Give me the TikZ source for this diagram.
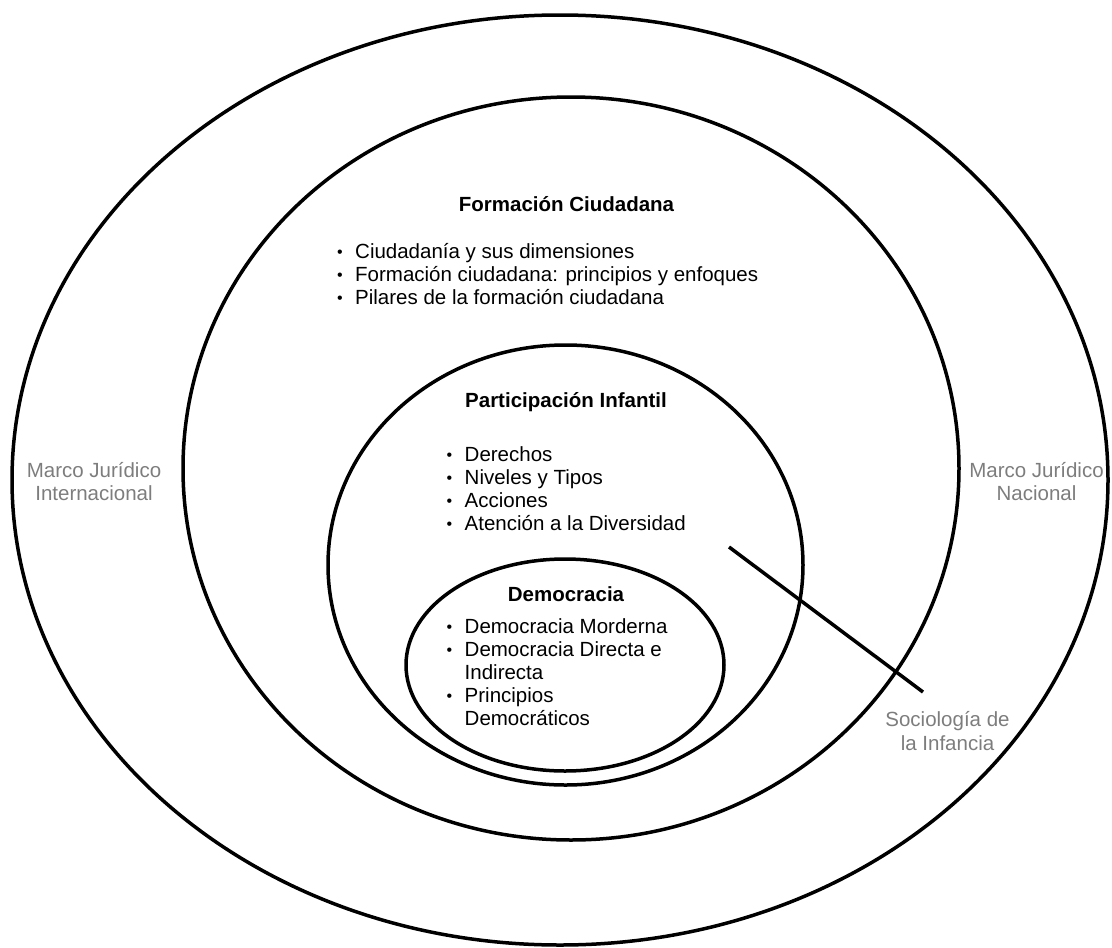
\documentclass[tikz,border=0pt]{standalone}
\usepackage{fontspec}
\setmainfont{Liberation Sans}
\usetikzlibrary{shapes.geometric}
\definecolor{labelgray}{RGB}{125,125,125}
\newcommand{\bl}{\makebox[18pt][l]{\raisebox{0.5pt}{\fontsize{16}{16}\selectfont•}}}
\tikzset{
  ring/.style={draw=black, line width=3.5pt, ellipse, inner sep=0pt, fill=none},
  txt/.style={inner sep=0pt, font=\fontsize{20.5}{23}\selectfont, text=black},
  ttl/.style={txt, font=\fontsize{20.5}{23}\selectfont\bfseries},
  glabel/.style={inner sep=0pt, font=\fontsize{20.5}{23.5}\selectfont, text=labelgray},
  link/.style={draw=black, line width=3.5pt}
}
\begin{document}
\begin{tikzpicture}[x=1pt,y=-1pt]
\useasboundingbox (0,0) rectangle (1112,948);
% ellipses
\node[ring, minimum width=1096pt, minimum height=930pt] (outer) at (560,480) {};
\node[ring, minimum width=776pt, minimum height=743pt] (formacion) at (571,468.5) {};
\node[ring, minimum width=475pt, minimum height=440pt] (participacion) at (565.5,565) {};
\node[ring, minimum width=318pt, minimum height=212pt] (democracia) at (565,665) {};
% titles
\node[ttl, anchor=base] (tfc) at (566.5,211.5) {Formación Ciudadana};
\node[ttl, anchor=base] (tpi) at (566,407) {Participación Infantil};
\node[ttl, anchor=base] (tdm) at (566,601) {Democracia};
% bullet lists
\node[txt, anchor=base west] (lfc) at (337,258) {\begin{tabular}[t]{@{}l@{}}\bl Ciudadanía y sus dimensiones\\ \bl Formación ciudadana: principios y enfoques\\ \bl Pilares de la formación ciudadana\end{tabular}};
\node[txt, anchor=base west] (lpi) at (446.5,461) {\begin{tabular}[t]{@{}l@{}}\bl Derechos\\ \bl Niveles y Tipos\\ \bl Acciones\\ \bl Atención a la Diversidad\end{tabular}};
\node[txt, anchor=base west] (ldm) at (446.5,633) {\begin{tabular}[t]{@{}l@{}}\bl Democracia Morderna\\ \bl Democracia Directa e\\ \hspace*{18pt}Indirecta\\ \bl Principios\\ \hspace*{18pt}Democráticos\end{tabular}};
% gray labels
\node[glabel, anchor=base] (mji) at (94,477) {\begin{tabular}[t]{@{}c@{}}Marco Jurídico\\ Internacional\end{tabular}};
\node[glabel, anchor=base] (mjn) at (1036.5,477) {\begin{tabular}[t]{@{}c@{}}Marco Jurídico\\ Nacional\end{tabular}};
\node[glabel, anchor=base] (soc) at (947.5,726.5) {\begin{tabular}[t]{@{}c@{}}Sociología de\\ la Infancia\end{tabular}};
% connector
\coordinate (s1) at (729,547);
\coordinate (s2) at (923,692);
\draw[link] (s1) -- (s2);
\end{tikzpicture}
\end{document}
